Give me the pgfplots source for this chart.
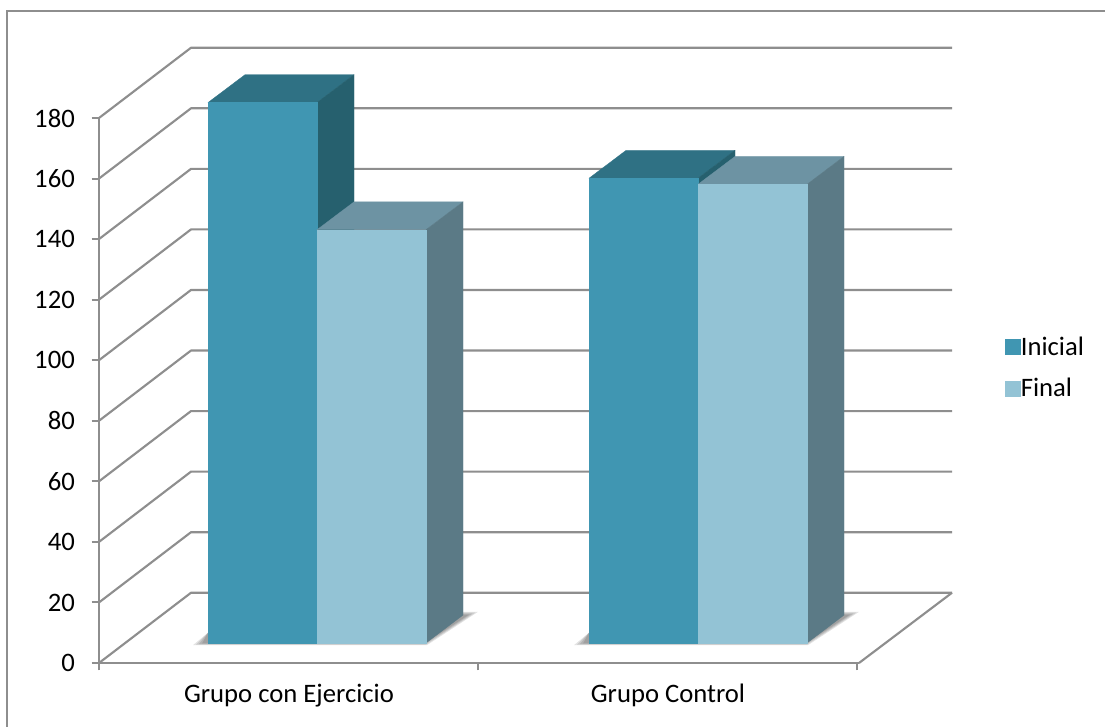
\documentclass[border=0pt]{standalone}
\usepackage{pgfplots}
\pgfplotsset{compat=1.18}
\usepackage{fontspec}
\setmainfont{Carlito}
\definecolor{iniFront}{HTML}{4096B2}
\definecolor{iniTop}{HTML}{2F7184}
\definecolor{iniSide}{HTML}{26606E}
\definecolor{finFront}{HTML}{93C3D5}
\definecolor{finTop}{HTML}{6D93A3}
\definecolor{finSide}{HTML}{5B7A86}
\definecolor{wire}{HTML}{8E8E8E}

% 1 horizontal unit is 1 px of the finished page, 1 px = 0.75 pt
\newlength{\px}\setlength{\px}{0.75pt}

% depth of a bar and height of its base above the front axis
\newcommand{\depthX}{37}
\newcommand{\depthY}{9.2}
\newcommand{\baseY}{6.6}

% one gridline: along the side wall, then along the back wall
\newcommand{\gridline}[1]{%
  \pgfmathsetmacro{\yb}{#1+23.2}%
  \addplot[wire,line width=1.6pt,line join=round] coordinates {(99,#1) (191,\yb) (952,\yb)};
}

% soft contact shadow under a pair of bars: x left, x right, spread
\newcommand{\barshadow}[3]{%
  \pgfmathsetmacro{\xa}{#1-15+#3}\pgfmathsetmacro{\ya}{5.9+#3*0.06}%
  \pgfmathsetmacro{\xb}{#1}\pgfmathsetmacro{\yb}{10}%
  \pgfmathsetmacro{\xc}{#2+37}\pgfmathsetmacro{\yc}{16.9-#3*0.1}%
  \pgfmathsetmacro{\xd}{#2+52-#3}%
  \pgfmathsetmacro{\xe}{#2+1-#3*0.3}\pgfmathsetmacro{\ye}{5.9+#3*0.06}%
  \addplot[fill=black,draw=none,fill opacity=0.11] coordinates
    {(\xa,\ya) (\xb,\yb) (\xc,\yc) (\xd,\yc) (\xe,\ye)} -- cycle;
}

% one bar in depth: x left, x right, value, colours of front, top and side
\newcommand{\depthbar}[6]{%
  \pgfmathsetmacro{\yf}{#3+\baseY}%
  \pgfmathsetmacro{\yr}{\yf+\depthY}%
  \pgfmathsetmacro{\xl}{#1+\depthX}%
  \pgfmathsetmacro{\xr}{#2+\depthX}%
  \pgfmathsetmacro{\yq}{\baseY+\depthY}%
  \addplot[fill=#5,draw=#5,line width=0.2pt] coordinates {(#1,\yf) (\xl,\yr) (\xr,\yr) (#2,\yf)} -- cycle;
  \addplot[fill=#6,draw=#6,line width=0.2pt] coordinates {(#2,\baseY) (\xr,\yq) (\xr,\yr) (#2,\yf)} -- cycle;
  \addplot[fill=#4,draw=#4,line width=0.2pt] coordinates {(#1,\baseY) (#2,\baseY) (#2,\yf) (#1,\yf)} -- cycle;
}

\begin{document}
\begin{tikzpicture}
\useasboundingbox (-99\px,-64\px) rectangle +(1105\px,727\px);
\begin{axis}[
  scale only axis,
  width=760\px, height=545\px,
  xmin=99, xmax=859, ymin=0, ymax=180,
  clip=false,
  axis lines=left,
  axis line style={-,wire,line width=1.6pt},
  tick style={wire,line width=1.5pt},
  tick align=outside,
  major tick length=7.5\px,
  xtick={99,478,857}, xticklabels={,,},
  extra x ticks={289,668},
  extra x tick labels={Grupo con Ejercicio,Grupo Control},
  extra x tick style={major tick length=0pt,
    xticklabel style={yshift=-16\px}},
  ytick={0,20,...,180},
  tick label style={font=\fontsize{20pt}{24pt}\selectfont,text=black},
  yticklabel style={xshift=-12\px},
  /pgf/number format/assume math mode=true,
  every axis plot/.append style={forget plot},
  legend style={draw=none,fill=none,at={(axis cs:1005,97.5)},anchor=west,
    font=\fontsize{20pt}{24pt}\selectfont,
    row sep=16pt,inner sep=0pt,
    nodes={inner sep=0pt,anchor=west}},
  legend cell align=left,
  legend image code/.code={\fill[#1] (0pt,-5.6pt) rectangle (11.25pt,5.6pt);},
  legend columns=1,
]
% outer frame, open towards the page edges
\addplot[wire,line width=1.5pt] coordinates {(7,-21.2) (7,215.2) (1105,215.2)};

% walls and floor
\gridline{0}\gridline{20}\gridline{40}\gridline{60}\gridline{80}
\gridline{100}\gridline{120}\gridline{140}\gridline{160}\gridline{180}
\addplot[wire,line width=1.6pt] coordinates {(859,0) (952,23.2)};

% contact shadows
\barshadow{208}{426}{0}\barshadow{208}{426}{3}\barshadow{208}{426}{6}\barshadow{208}{426}{9}
\barshadow{589}{807}{0}\barshadow{589}{807}{3}\barshadow{589}{807}{6}\barshadow{589}{807}{9}

% Grupo con Ejercicio
\depthbar{208}{317}{178.5}{iniFront}{iniTop}{iniSide}
\depthbar{317}{426}{136.5}{finFront}{finTop}{finSide}
% Grupo Control
\depthbar{589}{698}{153.5}{iniFront}{iniTop}{iniSide}
\depthbar{698}{807}{151.5}{finFront}{finTop}{finSide}

\addlegendimage{iniFront}
\addlegendentry{Inicial}
\addlegendimage{finFront}
\addlegendentry{Final}
\end{axis}
\end{tikzpicture}
\end{document}
